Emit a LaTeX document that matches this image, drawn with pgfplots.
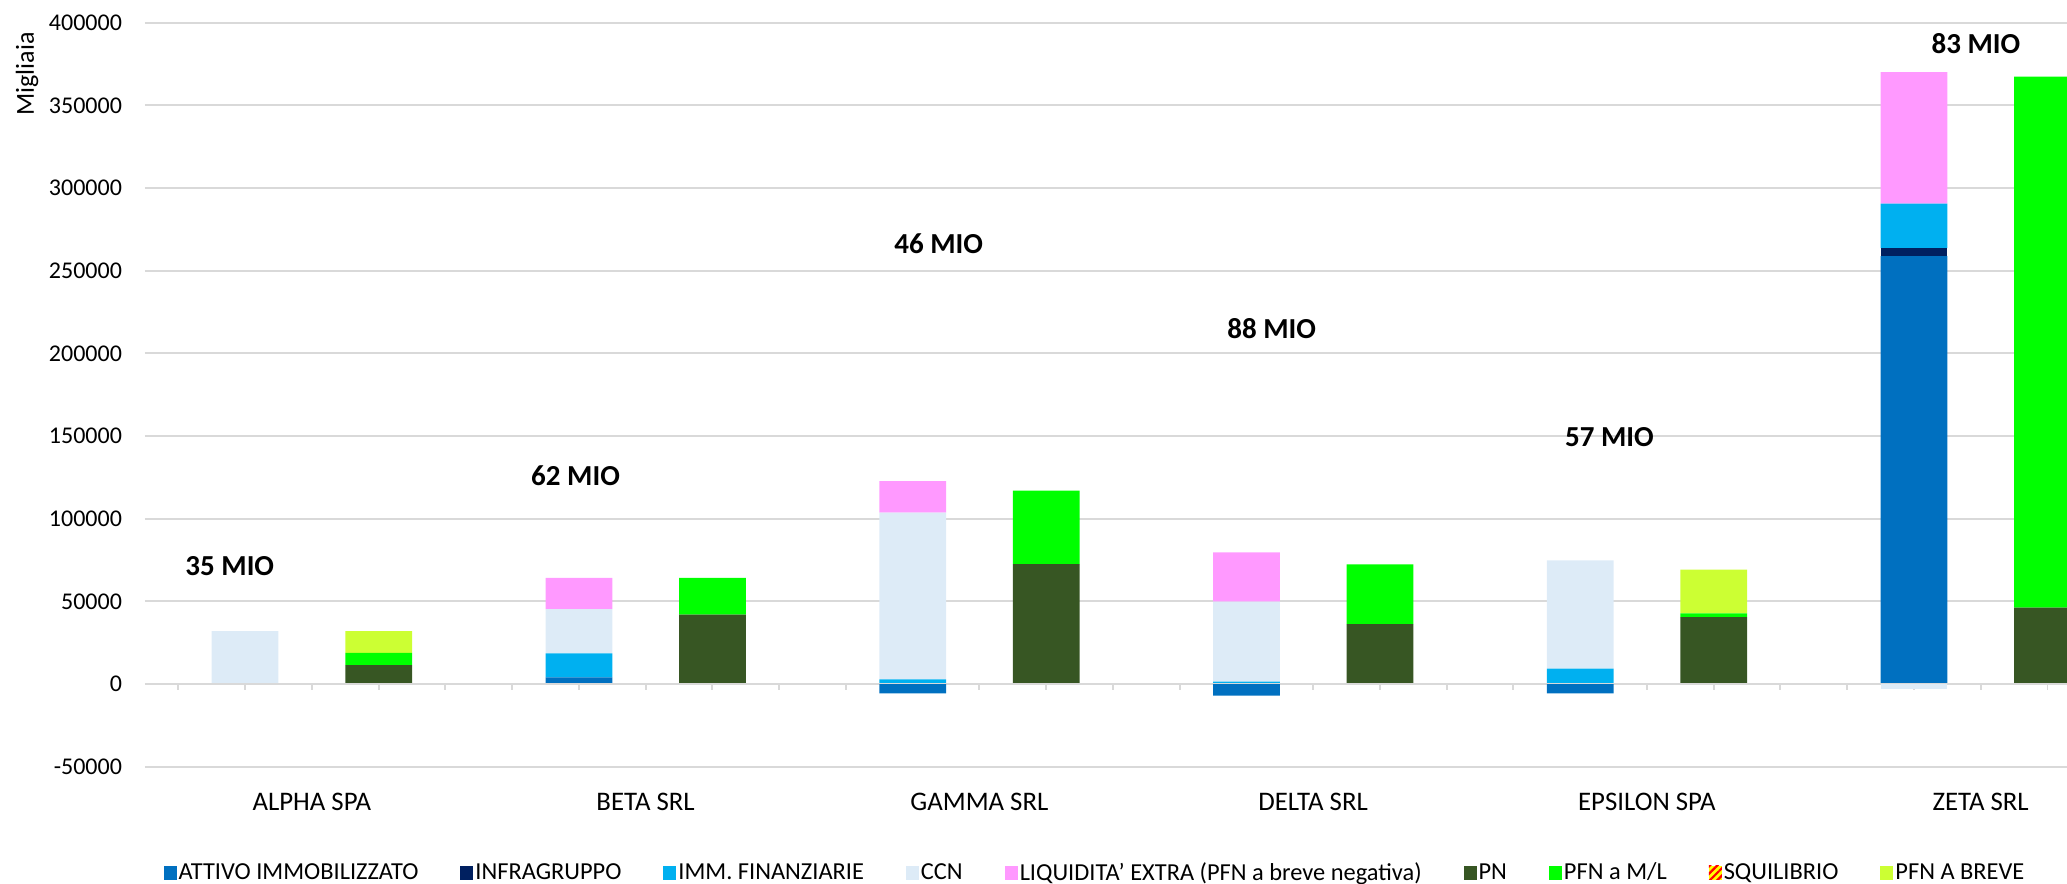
\documentclass[border=0pt]{standalone}
\usepackage{pgfplots}
\pgfplotsset{compat=1.18}
\usepackage{pgfplotstable}
\usepackage{fontspec}
\setmainfont{Carlito}
\usetikzlibrary{patterns.meta}

\definecolor{cAtt}{HTML}{0070C0}
\definecolor{cInf}{HTML}{002060}
\definecolor{cImm}{HTML}{00B0F0}
\definecolor{cCcn}{HTML}{DDEBF7}
\definecolor{cLiq}{HTML}{FF99FF}
\definecolor{cPn}{HTML}{375623}
\definecolor{cPml}{HTML}{00FF00}
\definecolor{cSqR}{HTML}{FF0000}
\definecolor{cSqY}{HTML}{FFFF00}
\definecolor{cPbr}{HTML}{CCFF33}
\definecolor{cGrid}{HTML}{D9D9D9}

% positive parts of each stacked bar (x: bar position)
\pgfplotstableread{
x    attivo infra immfin ccn    liq   pn    pfnml  squil pfnbreve
1.5  0      0     600    31330  0     0     0      0     0
3.5  0      0     0      0      0     11450 7425   0     13055
6.5  4040   0     14545  26665  18990 0     0      0     0
8.5  0      0     0      0      0     42020 22220  0     0
11.5 0      0     2830   100800 19170 0     0      0     0
13.5 0      0     0      0      0     72580 44350  0     0
16.5 0      0     1500   48300  29840 0     0      0     0
18.5 0      0     0      0      0     36290 36090  0     0
21.5 0      0     9270   65520  0     0     0      0     0
23.5 0      0     0      0      0     40520 2220   0     26410
26.5 258870 4840  26810  0      79640 0     0      0     0
28.5 0      0     0      0      0     46170 321170 0     0
}\pos

% negative parts
\pgfplotstableread{
x    attivo ccn
1.5  0      0
3.5  0      0
6.5  0      0
8.5  0      0
11.5 -5600  0
13.5 0      0
16.5 -7000  0
18.5 0      0
21.5 -5600  0
23.5 0      0
26.5 0      -2800
28.5 0      0
}\neg

\pgfplotsset{
  common/.style={
    scale only axis, width=961bp, height=372bp,
    xmin=0, xmax=28.794, ymin=-50000, ymax=400000,
    ybar stacked, bar width=33.375bp,
  },
}

\begin{document}
\begin{tikzpicture}
\useasboundingbox (-72.5bp,-58.65bp) rectangle (961bp,383.35bp);
\begin{axis}[common,
  axis line style={draw=none},
  tick style={draw=none},
  major tick length=0pt,
  ytick={-50000,0,...,400000},
  scaled y ticks=false,
  /pgf/number format/.cd, fixed, precision=0, 1000 sep={}, assume math mode=true, /pgfplots/.cd,
  ymajorgrids,
  grid style={cGrid, line width=0.9bp},
  yticklabel style={font=\fontsize{12bp}{14bp}\selectfont, xshift=-8bp},
  xtick={2.5,7.5,12.5,17.5,22.5,27.5},
  xticklabels={ALPHA SPA,BETA SRL,GAMMA SRL,DELTA SRL,EPSILON SPA,ZETA SRL},
  xticklabel style={font=\fontsize{13.4bp}{15bp}\selectfont, anchor=base, yshift=-21.7bp},
  legend image code/.code={\fill[#1] (0bp,-3.5bp) rectangle (6.5bp,3.5bp);},
  legend style={at={(axis description cs:0.4943,-0.1425)}, anchor=center, draw=none, fill=none,
    legend columns=-1, font=\fontsize{12.2bp}{14bp}\selectfont,
    nodes={inner sep=1bp},
    /tikz/every even column/.append style={column sep=20bp}},
]
\addplot[fill=cAtt, draw=none] table[x=x,y=attivo]{\pos};
\addlegendentry{ATTIVO IMMOBILIZZATO}
\addplot[fill=cInf, draw=none] table[x=x,y=infra]{\pos};
\addlegendentry{INFRAGRUPPO}
\addplot[fill=cImm, draw=none] table[x=x,y=immfin]{\pos};
\addlegendentry{IMM. FINANZIARIE}
\addplot[fill=cCcn, draw=none] table[x=x,y=ccn]{\pos};
\addlegendentry{CCN}
\addplot[fill=cLiq, draw=none] table[x=x,y=liq]{\pos};
\addlegendentry{LIQUIDITA' EXTRA (PFN a breve negativa)}
\addplot[fill=cPn, draw=none] table[x=x,y=pn]{\pos};
\addlegendentry{PN}
\addplot[fill=cPml, draw=none] table[x=x,y=pfnml]{\pos};
\addlegendentry{PFN a M/L}
\addplot[fill=cSqY, draw=none, postaction={pattern={Lines[angle=45, distance=2.6bp, line width=1.1bp]}, pattern color=cSqR}] table[x=x,y=squil]{\pos};
\addlegendentry{SQUILIBRIO}
\addplot[fill=cPbr, draw=none] table[x=x,y=pfnbreve]{\pos};
\addlegendentry{PFN A BREVE}

\coordinate (ylab) at (axis cs:0,368900);
\node[font=\bfseries\fontsize{14.5bp}{16bp}\selectfont] at (axis cs:1.27,71280) {35 MIO};
\node[font=\bfseries\fontsize{14.5bp}{16bp}\selectfont] at (axis cs:6.45,126200) {62 MIO};
\node[font=\bfseries\fontsize{14.5bp}{16bp}\selectfont] at (axis cs:11.89,266270) {46 MIO};
\node[font=\bfseries\fontsize{14.5bp}{16bp}\selectfont] at (axis cs:16.88,214870) {88 MIO};
\node[font=\bfseries\fontsize{14.5bp}{16bp}\selectfont] at (axis cs:21.94,149150) {57 MIO};
\node[font=\bfseries\fontsize{14.5bp}{16bp}\selectfont] at (axis cs:27.43,387200) {83 MIO};
\end{axis}

\begin{axis}[common, hide axis]
\addplot[fill=cAtt, draw=none] table[x=x,y=attivo]{\neg};
\addplot[fill=cCcn, draw=none] table[x=x,y=ccn]{\neg};
\draw[cGrid, line width=0.9bp] (axis cs:0,0) -- (axis cs:28.794,0);
\pgfplotsinvokeforeach{0.5,1.5,...,28.5}{\draw[cGrid, line width=0.9bp] (axis cs:#1,0) -- ([yshift=-3bp]axis cs:#1,0);}
\end{axis}
\node[rotate=90, anchor=center, inner sep=0pt, font=\fontsize{13bp}{15bp}\selectfont] at ([xshift=-59bp]ylab) {Migliaia};
\end{tikzpicture}
\end{document}
